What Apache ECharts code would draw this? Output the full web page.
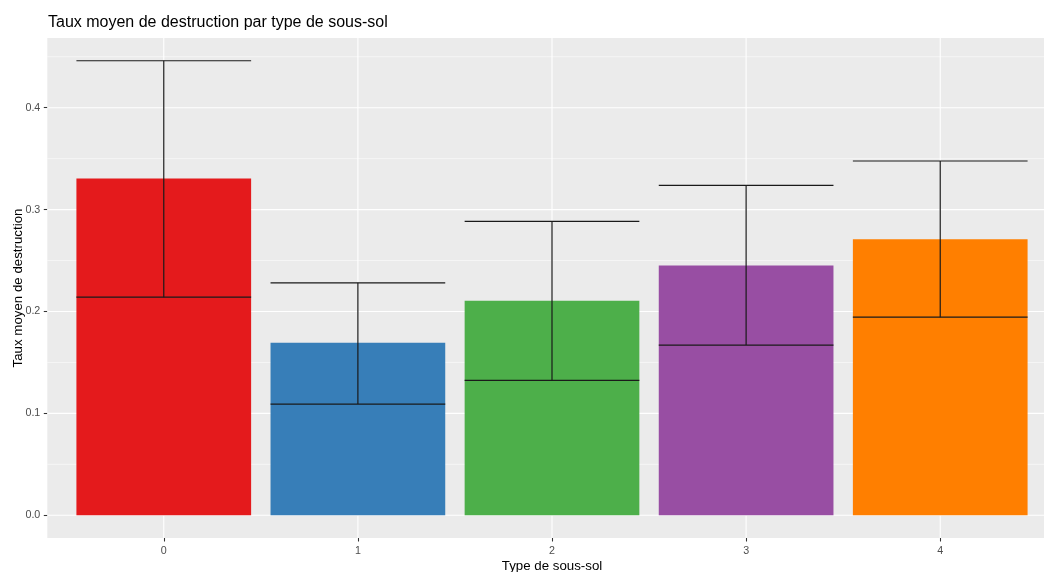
<!DOCTYPE html>
<html>
<head>
<meta charset="utf-8">
<script src="https://cdn.jsdelivr.net/npm/echarts@6/dist/echarts.min.js"></script>
<style>html,body{margin:0;padding:0;background:#fff}#c{width:1044px;height:572px}</style>
</head>
<body>
<div id="c"></div>
<script>
// ---- data ----
const categories = ['0', '1', '2', '3', '4'];
const means = [0.3304, 0.1693, 0.2105, 0.2451, 0.2709];
const lowers = [0.2140, 0.1091, 0.1324, 0.1670, 0.1944];
const uppers = [0.4461, 0.2281, 0.2885, 0.3238, 0.3477];
const yTicks = [0, 0.1, 0.2, 0.3, 0.4];
const yMinor = [0.05, 0.15, 0.25, 0.35, 0.45];
const colors = ['#E41A1C', '#377EB8', '#4DAF4A', '#984EA3', '#FF7F00'];

const xPos = categories.map((c, i) => i);
const dataMax = Math.max(...uppers, ...means);
const yMin = -0.05 * dataMax;
const yMax = 1.05 * dataMax;
const halfW = 0.45;
const FONT = 'Liberation Sans, Arial, sans-serif';

const chart = echarts.init(document.getElementById('c'), null, {renderer: 'canvas'});

function hGrid(width) {
  return function (params, api) {
    const cs = params.coordSys;
    const y = api.coord([0, api.value(0)])[1];
    return {type: 'line', shape: {x1: cs.x, y1: y, x2: cs.x + cs.width, y2: y},
      style: {stroke: '#FFFFFF', lineWidth: width}, silent: true};
  };
}

const option = {
  animation: false,
  backgroundColor: '#FFFFFF',
  title: {
    text: 'Taux moyen de destruction par type de sous-sol',
    left: 48, top: 14.5, padding: 0,
    textStyle: {fontFamily: FONT, fontSize: 16, fontWeight: 'normal', color: '#000000'}
  },
  grid: {
    left: 47.3, top: 38, width: 1009.4, height: 500,
    outerBoundsMode: 'none', containLabel: false,
    show: true, backgroundColor: '#EBEBEB', borderWidth: 0
  },
  xAxis: {
    type: 'value', min: -0.6, max: 4.6,
    name: 'Type de sous-sol', nameLocation: 'middle', nameGap: 21.5, nameMoveOverlap: false,
    nameTextStyle: {fontFamily: FONT, fontSize: 13.3, color: '#000000'},
    axisLine: {show: false, onZero: false},
    splitLine: {show: false},
    axisTick: {show: true, customValues: xPos, length: 3.5, lineStyle: {color: '#333333', width: 1.07}},
    axisLabel: {customValues: xPos, margin: 8, fontFamily: FONT, fontSize: 10.7, color: '#4D4D4D',
      formatter: v => categories[Math.round(v)]}
  },
  yAxis: {
    type: 'value', min: yMin, max: yMax,
    name: 'Taux moyen de destruction', nameLocation: 'middle', nameGap: 22, nameMoveOverlap: false,
    nameTextStyle: {fontFamily: FONT, fontSize: 13.3, color: '#000000'},
    axisLine: {show: false, onZero: false},
    splitLine: {show: false},
    axisTick: {show: true, customValues: yTicks, length: 3.5, lineStyle: {color: '#333333', width: 1.07}},
    axisLabel: {customValues: yTicks, margin: 7, fontFamily: FONT, fontSize: 10.7, color: '#4D4D4D',
      formatter: v => v.toFixed(1)}
  },
  series: [
    {
      type: 'custom', z: 1, silent: true, clip: false,
      data: yMinor.map(v => [v]), renderItem: hGrid(0.55)
    },
    {
      type: 'custom', z: 1, silent: true, clip: false,
      data: yTicks.map(v => [v]), renderItem: hGrid(1.1)
    },
    {
      type: 'custom', z: 1, silent: true, clip: false,
      data: xPos.map(v => [v]),
      renderItem: function (params, api) {
        const cs = params.coordSys;
        const x = api.coord([api.value(0), 0])[0];
        return {type: 'line', shape: {x1: x, y1: cs.y, x2: x, y2: cs.y + cs.height},
          style: {stroke: '#FFFFFF', lineWidth: 1.1}, silent: true};
      }
    },
    {
      type: 'custom', z: 2, clip: false,
      data: means.map((m, i) => [xPos[i], m]),
      renderItem: function (params, api) {
        const x = api.value(0), y = api.value(1);
        const p0 = api.coord([x - halfW, 0]);
        const p1 = api.coord([x + halfW, y]);
        return {type: 'rect',
          shape: {x: p0[0], y: p1[1], width: p1[0] - p0[0], height: p0[1] - p1[1]},
          style: {fill: colors[params.dataIndex]}};
      }
    },
    {
      type: 'custom', z: 3, clip: false,
      data: means.map((m, i) => [xPos[i], lowers[i], uppers[i]]),
      renderItem: function (params, api) {
        const x = api.value(0), lo = api.value(1), hi = api.value(2);
        const a = api.coord([x - halfW, hi]);
        const b = api.coord([x + halfW, lo]);
        const c = api.coord([x, 0]);
        const st = {stroke: '#1A1A1A', lineWidth: 1.2};
        return {type: 'group', children: [
          {type: 'line', shape: {x1: a[0], y1: a[1], x2: b[0], y2: a[1]}, style: st},
          {type: 'line', shape: {x1: a[0], y1: b[1], x2: b[0], y2: b[1]}, style: st},
          {type: 'line', shape: {x1: c[0], y1: a[1], x2: c[0], y2: b[1]}, style: st}
        ]};
      }
    }
  ]
};
chart.setOption(option);
</script>
</body>
</html>
